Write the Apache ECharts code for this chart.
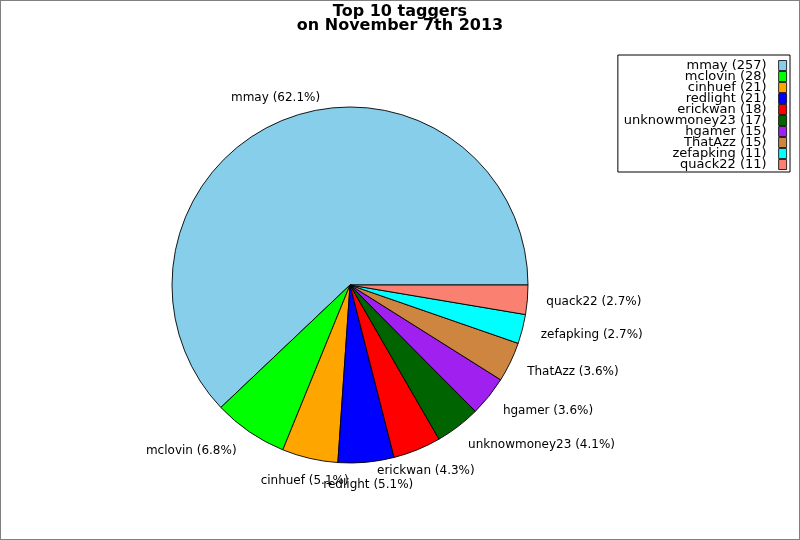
<!DOCTYPE html>
<html>
<head>
<meta charset="utf-8">
<script src="https://cdn.jsdelivr.net/npm/echarts@6/dist/echarts.min.js"></script>
<style>
  html, body { margin: 0; padding: 0; background: #fff; }
  #chart { width: 798px; height: 538px; border: 1px solid #808080; }
</style>
</head>
<body>
<div id="chart"></div>
<script>
// 数据
const names = ['mmay', 'mclovin', 'cinhuef', 'redlight', 'erickwan', 'unknowmoney23', 'hgamer', 'ThatAzz', 'zefapking', 'quack22']
const counts = [257, 28, 21, 21, 18, 17, 15, 15, 11, 11]
const colors = ['#87CEEB', '#00FF00', '#FFA500', '#0000FF', '#FF0000', '#006400', '#A020F0', '#CD853F', '#00FFFF', '#FA8072']

// 饼图位置（像素）
const cx = 349
const cy = 284
const radius = 178
const labelDist = 201

const total = counts.reduce((a, b) => a + b, 0)

// 每块扇区中间角度（逆时针，从东开始）
const midAngles = []
let acc = 0
counts.forEach(v => {
  const span = v / total * 360
  midAngles.push(acc + span / 2)
  acc += span
})

const font = 'DejaVu Sans'

const chart = echarts.init(document.getElementById('chart'))
chart.setOption({
  animation: false,
  title: {
    text: 'Top 10 taggers\non November 7th 2013',
    left: 'center',
    top: -1,
    textStyle: {
      fontFamily: font,
      fontSize: 16,
      fontWeight: 'bold',
      color: '#000',
      lineHeight: 14
    }
  },
  legend: {
    orient: 'vertical',
    right: 9,
    top: 54,
    align: 'right',
    itemWidth: 8,
    itemHeight: 10,
    itemGap: -2,
    padding: [4, 3, 1, 6],
    borderColor: '#000',
    borderWidth: 1,
    icon: 'rect',
    selectedMode: false,
    itemStyle: { borderColor: '#000', borderWidth: 0.8 },
    textStyle: {
      fontFamily: font,
      fontSize: 13,
      color: '#000',
      padding: [0, 7, 0, 0]
    },
    formatter: name => name + ' (' + counts[names.indexOf(name)] + ')'
  },
  series: [
    {
      type: 'pie',
      center: [cx, cy],
      radius: radius,
      startAngle: 0,
      clockwise: false,
      avoidLabelOverlap: false,
      emphasis: { disabled: true },
      itemStyle: { borderColor: '#000', borderWidth: 0.9 },
      label: {
        show: true,
        position: 'outside',
        fontFamily: font,
        fontSize: 12,
        color: '#000',
        formatter: p => p.name + ' (' + (p.value / total * 100).toFixed(1) + '%)'
      },
      labelLine: { show: false },
      labelLayout: params => {
        const a = midAngles[params.dataIndex] * Math.PI / 180
        const c = Math.cos(a)
        let align = 'center'
        let dx = 0
        if (c > 0.5) {
          align = 'left'
          dx = -4
        } else if (c < -0.5) {
          align = 'right'
        }
        return {
          x: cx + labelDist * c + dx,
          y: cy - labelDist * Math.sin(a),
          align: align,
          verticalAlign: 'middle'
        }
      },
      data: names.map((n, i) => ({
        name: n,
        value: counts[i],
        itemStyle: { color: colors[i] }
      }))
    }
  ]
})
</script>
</body>
</html>
